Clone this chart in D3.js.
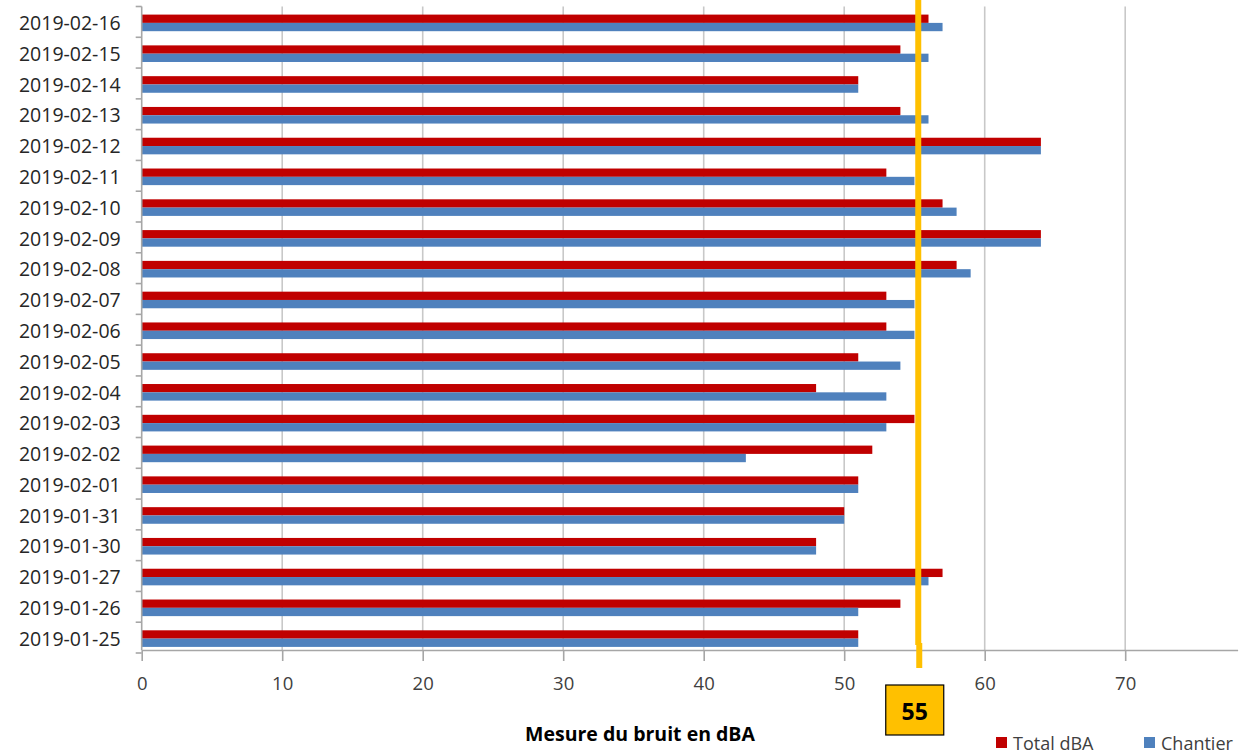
<!DOCTYPE html>
<html>
<head>
<meta charset="utf-8">
<script src="https://cdn.jsdelivr.net/npm/d3@7/dist/d3.min.js"></script>
<style>
  html, body { margin: 0; padding: 0; background: #fff; }
  svg { display: block; }
  text { font-family: "Open Sans", "Liberation Sans", sans-serif; }
</style>
</head>
<body>
<svg id="chart" width="1244" height="756"></svg>
<script>
const categories = ["2019-02-16","2019-02-15","2019-02-14","2019-02-13","2019-02-12","2019-02-11","2019-02-10","2019-02-09","2019-02-08","2019-02-07","2019-02-06","2019-02-05","2019-02-04","2019-02-03","2019-02-02","2019-02-01","2019-01-31","2019-01-30","2019-01-27","2019-01-26","2019-01-25"];
const totalDBA = [56,54,51,54,64,53,57,64,58,53,53,51,48,55,52,51,50,48,57,54,51];
const chantier = [57,56,51,56,64,55,58,64,59,55,55,54,53,53,43,51,50,48,56,51,51];
const xTicks = [0,10,20,30,40,50,60,70];
const seriesNames = ["Total dBA","Chantier"];
const seriesColors = ["#C00000","#4F81BD"];
const threshold = 55;
const xTitle = "Mesure du bruit en dBA";

const svg = d3.select("#chart");
const plotLeft = 141.7, plotTop = 6.5, plotBottom = 653;
const axisY = 650;

const x = d3.scaleLinear().domain([0, 78]).range([plotLeft, plotLeft + 78 * 14.05]);
const y = d3.scaleBand().domain(categories).range([plotTop, plotBottom]).paddingInner(0).paddingOuter(0);
const barH = 8.3;

// gridlines
svg.append("g").selectAll("line").data(xTicks.filter(d => d > 0)).join("line")
  .attr("x1", d => x(d)).attr("x2", d => x(d))
  .attr("y1", plotTop).attr("y2", axisY)
  .attr("stroke", "#C8C8C8").attr("stroke-width", 1.6);

// bars
const data = categories.map((c, i) => ({c, vals: [totalDBA[i], chantier[i]]}));
const gBars = svg.append("g");
data.forEach(d => {
  const cy = y(d.c) + y.bandwidth() / 2 + 1;
  d.vals.forEach((v, k) => {
    gBars.append("rect")
      .attr("x", x(0))
      .attr("y", cy - barH + k * barH)
      .attr("width", x(v) - x(0))
      .attr("height", barH)
      .attr("fill", seriesColors[k]);
  });
});

// x axis
const xAxis = d3.axisBottom(x).tickValues(xTicks).tickSize(11).tickSizeOuter(0).tickPadding(16);
const gx = svg.append("g").attr("transform", `translate(0,${axisY})`).call(xAxis);
gx.select(".domain").attr("stroke", "#A6A6A6").attr("stroke-width", 1.6);
gx.selectAll(".tick line").attr("stroke", "#A6A6A6").attr("stroke-width", 1.6);
gx.selectAll(".tick text").attr("font-size", 18.5).attr("fill", "#404040")
  .attr("font-family", "'Open Sans', sans-serif");

// y axis
const yAxis = d3.axisLeft(y).tickSize(0).tickPadding(21);
const gy = svg.append("g").attr("transform", `translate(${plotLeft},0)`).call(yAxis);
gy.select(".domain").attr("stroke", "#A6A6A6").attr("stroke-width", 1.6).attr("d", `M0,${plotTop}V${axisY}`);
gy.selectAll(".tick text").attr("font-size", 19.5).attr("fill", "#262626").attr("dy", "0.42em")
  .attr("font-family", "'Open Sans', sans-serif");
// boundary ticks
const bounds = categories.map(c => y(c)).concat([plotBottom]);
svg.append("g").selectAll("line").data(bounds).join("line")
  .attr("x1", plotLeft - 6).attr("x2", plotLeft)
  .attr("y1", d => d).attr("y2", d => d)
  .attr("stroke", "#A6A6A6").attr("stroke-width", 1.6);

// threshold annotation
const tx = x(threshold) + 3.8;
svg.append("rect").attr("x", tx - 3).attr("y", 0).attr("width", 6).attr("height", 645).attr("fill", "#FFC000");
svg.append("rect").attr("x", tx - 2).attr("y", 643).attr("width", 6).attr("height", 25).attr("fill", "#FFC000");
svg.append("rect").attr("x", tx - 32.5).attr("y", 685).attr("width", 58).attr("height", 50)
  .attr("fill", "#FFC000").attr("stroke", "#000").attr("stroke-width", 1.2);
svg.append("text").attr("x", tx - 3.5).attr("y", 711).attr("text-anchor", "middle")
  .attr("dominant-baseline", "central").attr("font-size", 23).attr("font-weight", "bold")
  .attr("fill", "#000").text(threshold);

// x title
svg.append("text").attr("x", 640).attr("y", 733).attr("text-anchor", "middle")
  .attr("dominant-baseline", "central").attr("font-size", 19.5).attr("font-weight", "bold")
  .attr("fill", "#000").text(xTitle);

// legend
const legendX = [996, 1144];
const lg = svg.append("g");
seriesNames.forEach((n, i) => {
  lg.append("rect").attr("x", legendX[i]).attr("y", 737).attr("width", 11).attr("height", 11).attr("fill", seriesColors[i]);
  lg.append("text").attr("x", legendX[i] + 17).attr("y", 743).attr("dominant-baseline", "central")
    .attr("font-size", 18).attr("fill", "#404040").text(n);
});
</script>
</body>
</html>
